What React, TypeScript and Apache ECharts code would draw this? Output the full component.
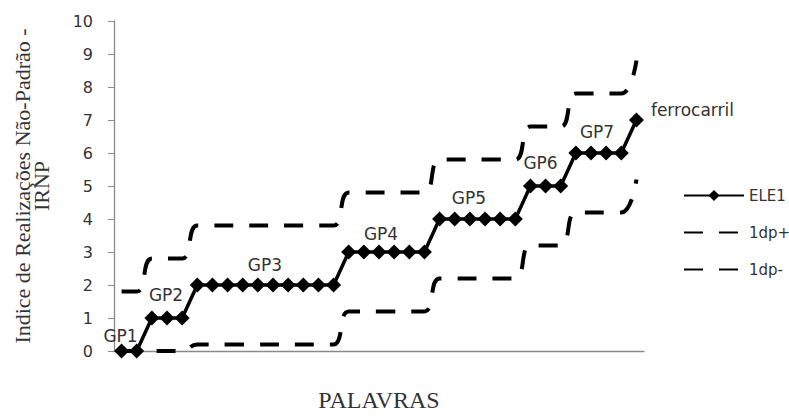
import { useEffect, useRef } from "react";
import * as echarts from "echarts";

// Word positions along the horizontal axis (one per word, in order)
const words = [
  "1", "2", "3", "4", "5", "6", "7", "8", "9", "10",
  "11", "12", "13", "14", "15", "16", "17", "18", "19", "20",
  "21", "22", "23", "24", "25", "26", "27", "28", "29", "30",
  "31", "32", "33", "34", "35",
];

// IRNP per word (ELE1)
const ele1 = [
  0, 0,
  1, 1, 1,
  2, 2, 2, 2, 2, 2, 2, 2, 2, 2,
  3, 3, 3, 3, 3, 3,
  4, 4, 4, 4, 4, 4,
  5, 5, 5,
  6, 6, 6, 6,
  7,
];

// Upper band: one standard deviation above
const dpPlus = [
  1.8, 1.8,
  2.8, 2.8, 2.8,
  3.8, 3.8, 3.8, 3.8, 3.8, 3.8, 3.8, 3.8, 3.8, 3.8,
  4.8, 4.8, 4.8, 4.8, 4.8, 4.8,
  5.8, 5.8, 5.8, 5.8, 5.8, 5.8,
  6.8, 6.8, 6.8,
  7.8, 7.8, 7.8, 7.8,
  8.8,
];

// Lower band: one standard deviation below (floored at zero)
const dpMinus = [
  0, 0,
  0, 0, 0,
  0.2, 0.2, 0.2, 0.2, 0.2, 0.2, 0.2, 0.2, 0.2, 0.2,
  1.2, 1.2, 1.2, 1.2, 1.2, 1.2,
  2.2, 2.2, 2.2, 2.2, 2.2, 2.2,
  3.2, 3.2, 3.2,
  4.2, 4.2, 4.2, 4.2,
  5.2,
];

// Group names written next to a point of each group
const groupLabelIndex = [0, 3, 9, 17, 23, 28, 31, 34];
const groupLabelText = ["GP1", "GP2", "GP3", "GP4", "GP5", "GP6", "GP7", "ferrocarril"];

const seriesNames = ["ELE1", "1dp+", "1dp-"];

// Fine placement of each group label (pixels)
const labelOffsets: Record<string, number[]> = {
  GP1: [-1, 6],
  GP2: [-1, -2],
  GP3: [7, 1],
  GP4: [2, 3],
  GP5: [-1, 0],
  GP6: [-5, -2],
  GP7: [6, 0],
  ferrocarril: [2, -10],
};

const FONT_SANS = "'DejaVu Sans', Verdana, sans-serif";
const FONT_SERIF = "'Liberation Serif', 'Times New Roman', serif";
const INK = "#000000";
const TEXT = "#333333";
const AXIS = "#8a8a8a";

export default function App() {
  const ref = useRef<HTMLDivElement>(null);

  useEffect(() => {
    if (!ref.current) return;
    const chart = echarts.init(ref.current, undefined, { renderer: "svg" });

    const ele1Data = ele1.map((v, i) => {
      const k = groupLabelIndex.indexOf(i);
      if (k < 0) return v;
      const text = groupLabelText[k];
      const isEnd = k === groupLabelText.length - 1;
      return {
        value: v,
        label: {
          show: true,
          formatter: text,
          position: isEnd ? "right" : "top",
          distance: 5,
          offset: labelOffsets[text],
          color: TEXT,
          fontFamily: FONT_SANS,
          fontSize: 17,
        },
      };
    });

    const dashed = [19, 16];
    // band series carry no markers; keep the legend marker invisible too
    const hiddenMarker = { color: "rgba(0,0,0,0)", borderWidth: 0 };

    chart.setOption({
      animation: false,
      backgroundColor: "#ffffff",
      grid: { left: 114, top: 21, width: 530, height: 339 },
      legend: {
        orient: "vertical",
        left: 678,
        top: 183,
        itemWidth: 60,
        itemHeight: 14,
        itemGap: 22,
        data: seriesNames,
        textStyle: { color: TEXT, fontFamily: FONT_SANS, fontSize: 15 },
      },
      xAxis: {
        type: "category",
        data: words,
        boundaryGap: true,
        name: "PALAVRAS",
        nameLocation: "middle",
        nameGap: 37,
        nameTextStyle: { color: TEXT, fontFamily: FONT_SERIF, fontSize: 24 },
        axisLine: { lineStyle: { color: AXIS, width: 1.3 } },
        axisTick: { show: false },
        axisLabel: { show: false },
        splitLine: { show: false },
      },
      yAxis: {
        type: "value",
        min: 0,
        max: 10,
        interval: 1,
        name: "Indice de Realizações Não-Padrão -\nIRNP",
        nameLocation: "middle",
        nameGap: 63,
        nameTextStyle: {
          color: TEXT,
          fontFamily: FONT_SERIF,
          fontSize: 22,
          lineHeight: 19,
          align: "center",
        },
        axisLine: { show: true, lineStyle: { color: AXIS, width: 1.3 } },
        axisTick: { show: true, inside: false, length: 6, lineStyle: { color: AXIS } },
        axisLabel: { margin: 21, color: TEXT, fontFamily: FONT_SANS, fontSize: 16 },
        splitLine: { show: false },
      },
      series: [
        {
          name: seriesNames[1],
          type: "line",
          data: dpPlus,
          smooth: 0.5,
          symbol: "none",
          lineStyle: { color: INK, width: 4, type: dashed },
          itemStyle: hiddenMarker,
          z: 2,
        },
        {
          name: seriesNames[2],
          type: "line",
          data: dpMinus,
          smooth: 0.5,
          symbol: "none",
          lineStyle: { color: INK, width: 4, type: dashed },
          itemStyle: hiddenMarker,
          z: 2,
        },
        {
          name: seriesNames[0],
          type: "line",
          data: ele1Data,
          symbol: "diamond",
          symbolSize: 15,
          showAllSymbol: true,
          lineStyle: { color: INK, width: 3.5 },
          itemStyle: { color: INK },
          z: 3,
        },
      ],
    });

    return () => chart.dispose();
  }, []);

  return (
    <div
      ref={ref}
      style={{ position: "fixed", left: 0, top: 0, width: 789, height: 417 }}
    />
  );
}
